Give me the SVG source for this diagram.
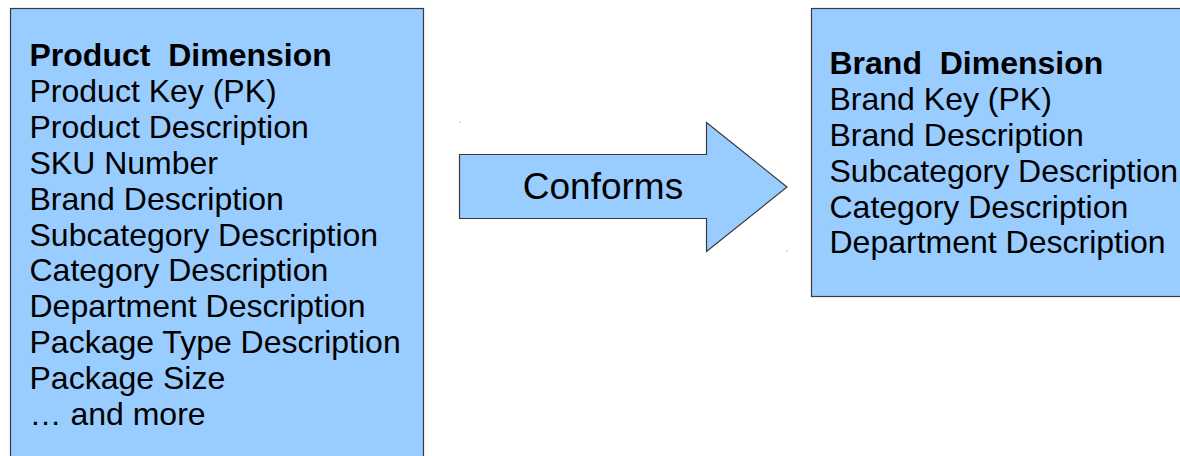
<svg xmlns="http://www.w3.org/2000/svg" width="1180" height="456" viewBox="0 0 1180 456">
  <style>
    .box { fill: #99ccff; stroke: #3a3a3a; stroke-width: 1.2; }
    .txt { font-family: "Liberation Sans", Arial, sans-serif; font-size: 32px; fill: #000; white-space: pre; }
    .title { font-weight: bold; }
    .lbl { font-family: "Liberation Sans", Arial, sans-serif; font-size: 37px; fill: #000; }
  </style>
  <rect width="1180" height="456" fill="#ffffff"/>

  <!-- Source dimension table -->
  <g id="product-dimension">
    <rect class="box" x="10.5" y="8.5" width="413" height="470"/>
    <text class="txt title" x="29.5" y="66" xml:space="preserve">Product  Dimension</text>
    <text class="txt" x="29.5" y="101.9">Product Key (PK)</text>
    <text class="txt" x="29.5" y="137.8">Product Description</text>
    <text class="txt" x="29.5" y="173.7">SKU Number</text>
    <text class="txt" x="29.5" y="209.6">Brand Description</text>
    <text class="txt" x="29.5" y="245.5">Subcategory Description</text>
    <text class="txt" x="29.5" y="281.4">Category Description</text>
    <text class="txt" x="29.5" y="317.3">Department Description</text>
    <text class="txt" x="29.5" y="353.2">Package Type Description</text>
    <text class="txt" x="29.5" y="389.1">Package Size</text>
    <text class="txt" x="29.5" y="425">… and more</text>
  </g>

  <!-- Block arrow between the two tables -->
  <g id="connectors">
    <g id="conforms-arrow">
      <polygon class="box" points="459.5,154.5 706.5,154.5 706.5,122.5 787,187 706.5,251.5 706.5,218.5 459.5,218.5"/>
      <text class="lbl" x="603" y="199" text-anchor="middle">Conforms</text>
      <rect x="459.5" y="121.5" width="1" height="1" fill="#888"/>
      <rect x="786.5" y="250.5" width="1" height="1" fill="#888"/>
    </g>
  </g>

  <!-- Conformed dimension table -->
  <g id="brand-dimension">
    <rect class="box" x="811.5" y="8.5" width="380" height="288"/>
    <text class="txt title" x="829.5" y="74.3" xml:space="preserve">Brand  Dimension</text>
    <text class="txt" x="829.5" y="110.1">Brand Key (PK)</text>
    <text class="txt" x="829.5" y="145.9">Brand Description</text>
    <text class="txt" x="829.5" y="181.7">Subcategory Description</text>
    <text class="txt" x="829.5" y="217.5">Category Description</text>
    <text class="txt" x="829.5" y="253.3">Department Description</text>
  </g>
</svg>
